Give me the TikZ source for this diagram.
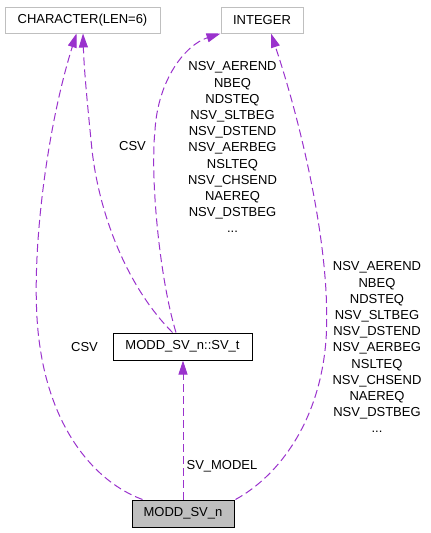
\documentclass[tikz,border=0pt]{standalone}
\usepackage{fontspec}
\setmainfont{Liberation Sans}
\usetikzlibrary{arrows.meta,calc}
\definecolor{edgec}{HTML}{9A32CD}
\definecolor{grayb}{HTML}{BFBFBF}
\begin{document}
\begin{tikzpicture}[x=0.75pt,y=-0.75pt,
  every node/.style={font=\fontsize{9.75pt}{12.15pt}\selectfont},
  boxg/.style={draw=grayb,fill=white,line width=0.75pt,inner sep=0pt},
  boxk/.style={draw=black,fill=white,line width=0.75pt,inner sep=0pt},
  boxf/.style={draw=black,fill=grayb,line width=0.75pt,inner sep=0pt},
  lbl/.style={align=center,inner sep=0pt},
  dep/.style={draw=edgec,line width=0.75pt,dash pattern=on 6pt off 3pt,
    -{Triangle[length=10.5pt,width=6.75pt,fill=edgec]}}]
\useasboundingbox (0,0) rectangle (431,533);
\node[boxg,minimum width=155*0.75pt,minimum height=26*0.75pt] (chr) at (82.5,20) {CHARACTER(LEN=6)};
\node[boxg,minimum width=82*0.75pt,minimum height=26*0.75pt] (int) at (262,20) {INTEGER};
\node[boxk,minimum width=139*0.75pt,minimum height=27*0.75pt] (svt) at (182.5,346.5) {MODD\_SV\_n::SV\_t};
\node[boxf,minimum width=102*0.75pt,minimum height=27*0.75pt] (modd) at (183,513.5) {MODD\_SV\_n};
% edges
\draw[dep] ($(modd.north west)+(11,0)$) .. controls (95,482) and (52,430) .. (40,347)
  .. controls (28,270) and (46,130) .. ($(chr.south)+(-6,0)$);
\draw[dep] ($(svt.north)+(-10,0)$) .. controls (130,290) and (100,220) .. (92,150)
  .. controls (88,110) and (84,70) .. ($(chr.south)+(0.5,0)$);
\draw[dep] ($(svt.north)+(-6.5,0)$) .. controls (160,280) and (150,180) .. (155,130)
  .. controls (158,80) and (185,45) .. (int.south west);
\draw[dep] ($(modd.north east)+(1,0)$) .. controls (280,475) and (320,420) .. (326,340)
  .. controls (332,250) and (300,120) .. ($(int.south)+(9,0)$);
\draw[dep] (modd.north) -- (modd.north |- svt.south);
% labels
\node[lbl] (l1) at (84.5,347) {CSV};
\node[lbl] (l2) at (132.5,146) {CSV};
\node[lbl,anchor=north] (l3) at (232.5,61.5) {NSV\_AEREND\\NBEQ\\NDSTEQ\\NSV\_SLTBEG\\NSV\_DSTEND\\NSV\_AERBEG\\NSLTEQ\\NSV\_CHSEND\\NAEREQ\\NSV\_DSTBEG\\...};
\node[lbl,anchor=north] (l4) at (377,261.5) {NSV\_AEREND\\NBEQ\\NDSTEQ\\NSV\_SLTBEG\\NSV\_DSTEND\\NSV\_AERBEG\\NSLTEQ\\NSV\_CHSEND\\NAEREQ\\NSV\_DSTBEG\\...};
\node[lbl] (l5) at (222,466) {SV\_MODEL};
\end{tikzpicture}
\end{document}
